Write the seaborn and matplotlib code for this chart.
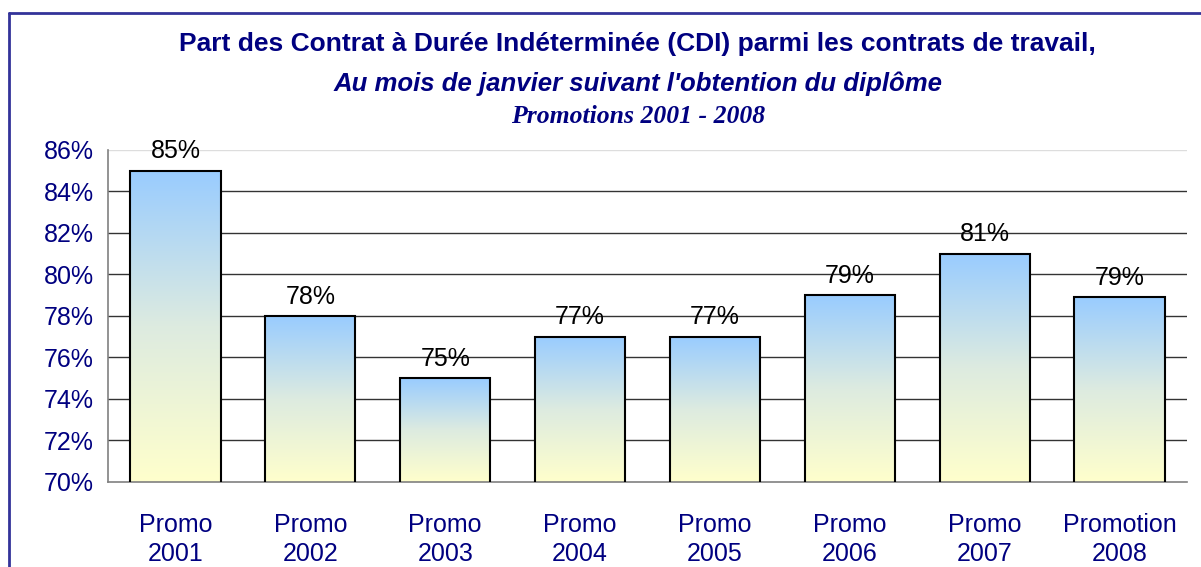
import matplotlib
matplotlib.use("Agg")
import matplotlib.pyplot as plt
import seaborn as sns
import numpy as np
import pandas as pd
from matplotlib.colors import LinearSegmentedColormap
from matplotlib.ticker import FixedLocator

# Données
promos = ["Promo\n2001", "Promo\n2002", "Promo\n2003", "Promo\n2004",
          "Promo\n2005", "Promo\n2006", "Promo\n2007", "Promotion\n2008"]
part_cdi = [85.0, 78.0, 75.0, 77.0, 77.0, 79.0, 81.0, 78.9]
etiquettes = ["85%", "78%", "75%", "77%", "77%", "79%", "81%", "79%"]

df = pd.DataFrame({"Promo": promos, "CDI": part_cdi})

navy = "#000080"
ymin, ymax = 70, 86
sns.set_style("white")
plt.rcParams["font.family"] = ["Liberation Sans", "DejaVu Sans"]

fig = plt.figure(figsize=(12.01, 5.67), dpi=100)
ax = fig.add_axes([0.0899, 0.150, 0.8985, 0.5855])

sns.barplot(data=df, x="Promo", y="CDI", ax=ax, width=0.67,
            color="white", edgecolor="black", linewidth=1.5, zorder=3)

ax.set_ylim(ymin, ymax)
ax.set_xlim(-0.5, len(promos) - 0.5)

# Dégradé bleu -> jaune dans chaque barre
cmap = LinearSegmentedColormap.from_list("grad", ["#FFFFCC", "#DDEBE0", "#99CCFF"])
grad = np.linspace(0, 1, 256).reshape(-1, 1)
for p in ax.patches:
    x0, w = p.get_x(), p.get_width()
    top = p.get_y() + p.get_height()
    im = ax.imshow(grad, cmap=cmap, origin="lower", aspect="auto",
                   extent=[x0, x0 + w, ymin, top], zorder=2.5)
    im.set_clip_path(p)
    p.set_facecolor("none")

ax.set_xlim(-0.5, len(promos) - 0.5)
ax.set_ylim(ymin, ymax)

# Étiquettes de valeurs
for i, (v, lab) in enumerate(zip(part_cdi, etiquettes)):
    ax.text(i, v + 0.35, lab, ha="center", va="bottom", fontsize=18, color="black", zorder=4)

# Grille et axes
ax.set_yticks(np.arange(ymin, ymax + 1, 2))
ax.set_yticklabels([f"{t}%" for t in range(ymin, ymax + 1, 2)], color=navy, fontsize=18)
for t in range(72, 86, 2):
    ax.axhline(t, color="#333333", lw=1.0, zorder=1)
ax.axhline(86, color="#dddddd", lw=1.0, zorder=1)

ax.set_xticks(range(len(promos)))
ax.set_xticklabels(promos, color=navy, fontsize=18, linespacing=1.3)
ax.xaxis.set_minor_locator(FixedLocator(np.arange(-0.5, len(promos), 1)))
ax.tick_params(axis="x", which="major", length=0, pad=22)
ax.tick_params(axis="x", which="minor", length=6, color="#808080", width=1)
ax.tick_params(axis="y", which="major", length=7, color="#808080", width=1, pad=3)

for s in ["top", "right"]:
    ax.spines[s].set_visible(False)
for s in ["left", "bottom"]:
    ax.spines[s].set_color("#808080")
    ax.spines[s].set_linewidth(1.2)
ax.set_xlabel("")
ax.set_ylabel("")

# Titres
fig.text(0.531, 0.923, "Part des Contrat à Durée Indéterminée (CDI) parmi les contrats de travail,",
         ha="center", va="center", fontsize=19, fontweight="bold", color=navy)
fig.text(0.531, 0.853, "Au mois de janvier suivant l'obtention du diplôme",
         ha="center", va="center", fontsize=18.5, fontweight="bold", fontstyle="italic", color=navy)
fig.text(0.531, 0.795, "Promotions 2001 - 2008",
         ha="center", va="center", fontsize=18.5, fontweight="bold", fontstyle="italic",
         color=navy, family=["Liberation Serif", "DejaVu Serif"])

# Cadre
fig.add_artist(plt.Line2D([0.0075, 0.0075], [0, 0.977], color="#333399", lw=2, transform=fig.transFigure))
fig.add_artist(plt.Line2D([0.0075, 1.0], [0.977, 0.977], color="#333399", lw=2, transform=fig.transFigure))

fig.savefig("out.png", dpi=100)
